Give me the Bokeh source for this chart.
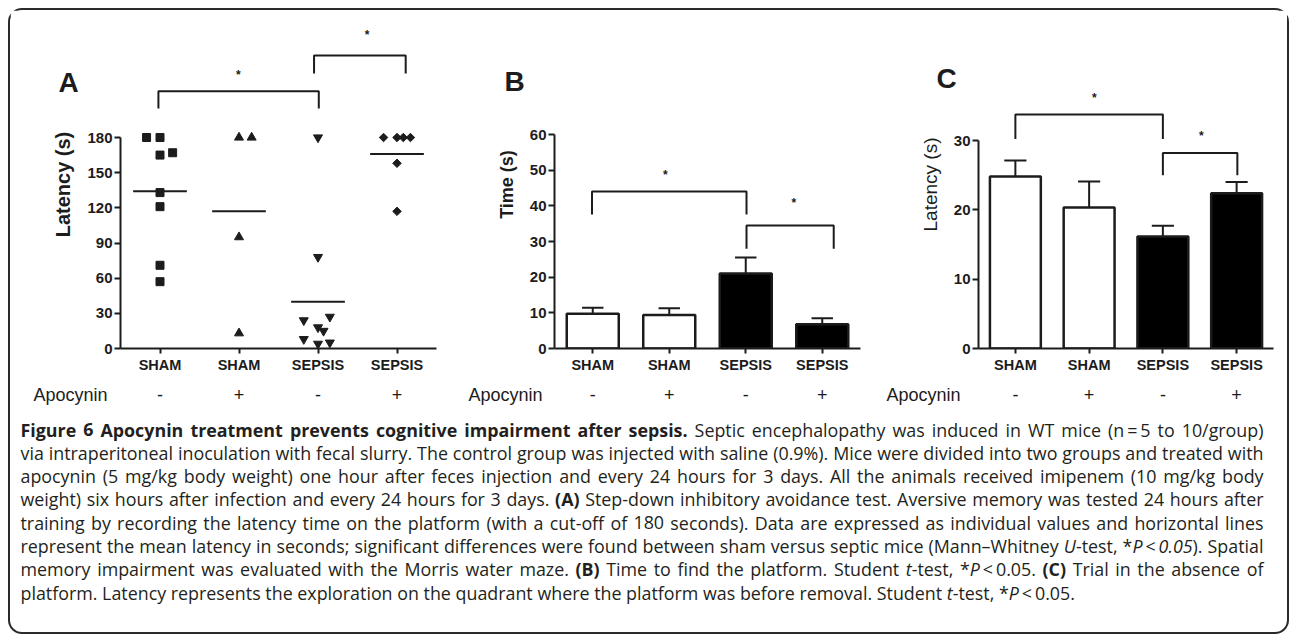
import subprocess
import numpy as np
from bokeh.plotting import figure
from bokeh.models import Range1d, LinearAxis, FixedTicker
from bokeh.layouts import row, column
from bokeh.embed import file_html
from bokeh.resources import INLINE
from bokeh.core.properties import value

# ---------------------------------------------------------------- data
groups = ["SHAM", "SHAM", "SEPSIS", "SEPSIS"]
apocynin = ["-", "+", "-", "+"]

# Panel A - step-down latency (s), individual animals
a_sham = [180, 180, 165, 167, 133, 121, 71, 57]
a_sham_apo = [180, 180, 95, 13]
a_sepsis = [180, 78, 27, 24, 18, 15, 8, 5, 4]
a_sepsis_apo = [180, 180, 180, 180, 158, 117]
a_ticks = [0, 30, 60, 90, 120, 150, 180]

# Panel B - time to find the platform (s), mean and SEM
b_time = [9.75, 9.4, 21.0, 6.8]
b_sem = [1.65, 1.9, 4.5, 1.7]
b_ticks = [0, 10, 20, 30, 40, 50, 60]

# Panel C - latency (s), mean and SEM
c_latency = [24.8, 20.35, 16.15, 22.4]
c_sem = [2.3, 3.75, 1.55, 1.6]
c_ticks = [0, 10, 20, 30]

caption_lines = [
    "**Figure 6 Apocynin treatment prevents cognitive impairment after sepsis.** Septic encephalopathy was induced in WT mice (n\u2009=\u20095 to 10/group)",
    "via intraperitoneal inoculation with fecal slurry. The control group was injected with saline (0.9%). Mice were divided into two groups and treated with",
    "apocynin (5 mg/kg body weight) one hour after feces injection and every 24 hours for 3 days. All the animals received imipenem (10 mg/kg body",
    "weight) six hours after infection and every 24 hours for 3 days. **(A)** Step-down inhibitory avoidance test. Aversive memory was tested 24 hours after",
    "training by recording the latency time on the platform (with a cut-off of 180 seconds). Data are expressed as individual values and horizontal lines",
    "represent the mean latency in seconds; significant differences were found between sham versus septic mice (Mann\u2013Whitney __U__-test, *__P__\u2009<\u2009__0.05__). Spatial",
    "memory impairment was evaluated with the Morris water maze. **(B)** Time to find the platform. Student __t__-test, *__P__\u2009<\u20090.05. **(C)** Trial in the absence of",
    "platform. Latency represents the exploration on the quadrant where the platform was before removal. Student __t__-test, *__P__\u2009<\u20090.05.",
]

# ---------------------------------------------------------------- style / geometry
INK = "#1c1c1c"
CH = "Liberation Sans"
CAP_FONT = "Open Sans"
PAGE_X0, PAGE_Y0 = 10, 10          # page position of the content (inside the rounded box)
INNER_W, INNER_H = 1277, 622
TOP_H = 400
FRAME_TOP = 20
FRAME_BOTTOM = 348
MB_TOP = FRAME_TOP - PAGE_Y0
MB_BOTTOM = TOP_H - MB_TOP - (FRAME_BOTTOM - FRAME_TOP)

# jitter of the dots in panel A (fraction of a category width)
a_sham_dx = [-0.17, 0.0, 0.0, 0.16, 0.0, 0.0, 0.0, 0.0]
a_sham_apo_dx = [0.0, 0.16, 0.0, 0.0]
a_sepsis_dx = [0.0, 0.0, 0.15, -0.18, 0.0, 0.07, -0.18, 0.15, 0.0]
a_sepsis_apo_dx = [-0.17, 0.0, 0.08, 0.17, 0.0, 0.0]


def make_panel(fig_left, fig_w, L, frame_w, ppy, ticks, ylabel, ylab_size, ylab_style, tick_size):
    y_top = (FRAME_BOTTOM - FRAME_TOP) / ppy
    p = figure(width=fig_w, height=TOP_H, x_range=Range1d(0.5, 4.5), y_range=Range1d(0, y_top),
               x_axis_type=None, y_axis_type=None, output_backend="svg", toolbar_location=None,
               min_border_left=L, min_border_right=fig_w - L - frame_w,
               min_border_top=MB_TOP, min_border_bottom=MB_BOTTOM)
    p.outline_line_color = None
    p.background_fill_color = "white"
    p.border_fill_color = "white"
    yax = LinearAxis(ticker=FixedTicker(ticks=ticks, minor_ticks=[]), bounds=(ticks[0], ticks[-1]),
                     axis_label=ylabel, axis_line_width=2, axis_line_color=INK,
                     major_tick_line_width=2, major_tick_line_color=INK, major_tick_in=0, major_tick_out=6,
                     minor_tick_line_color=None,
                     major_label_text_font=CH, major_label_text_font_style="bold",
                     major_label_text_font_size=tick_size, major_label_text_color=INK,
                     major_label_standoff=2,
                     axis_label_text_font=CH, axis_label_text_font_size=ylab_size,
                     axis_label_text_font_style=ylab_style, axis_label_text_color=INK,
                     axis_label_standoff=10)
    p.add_layout(yax, "left")
    xax = LinearAxis(ticker=FixedTicker(ticks=[1, 2, 3, 4], minor_ticks=[]),
                     major_label_overrides={i + 1: g for i, g in enumerate(groups)},
                     axis_line_width=2, axis_line_color=INK,
                     major_tick_line_width=2, major_tick_line_color=INK, major_tick_in=0, major_tick_out=5,
                     minor_tick_line_color=None,
                     major_label_text_font=CH, major_label_text_font_style="bold",
                     major_label_text_font_size="14.5px", major_label_text_color=INK,
                     major_label_standoff=3)
    p.add_layout(xax, "below")
    geom = dict(frame_left=fig_left + L, ppx=frame_w / 4.0)
    return p, geom


def add_brackets(p, brackets, stars):
    xs, ys = [], []
    for x1, x2, yt, yl, yr in brackets:
        xs.append([x1, x1, x2, x2])
        ys.append([yl, yt, yt, yr])
    p.multi_line(xs=xs, ys=ys, line_width=2, line_color=INK)
    p.text(x=[s[0] for s in stars], y=[s[1] for s in stars], text=["*"] * len(stars),
           text_font=value(CH), text_font_size="12px", text_font_style="bold", text_color=INK,
           text_align="center", text_baseline="middle", y_offset=3)


# ---------------------------------------------------------------- panel A
pA, gA = make_panel(10, 445, 110, 316, 211 / 180.0, a_ticks, "Latency (s)", "20px", "bold", "15px")
series = [(a_sham, a_sham_dx, "square", 8, 0.0),
          (a_sham_apo, a_sham_apo_dx, "triangle", 9, 0.0),
          (a_sepsis, a_sepsis_dx, "inverted_triangle", 9, 0.0),
          (a_sepsis_apo, a_sepsis_apo_dx, "square", 6, np.pi / 4)]
for k, (vals, dx, mk, sz, ang) in enumerate(series):
    xs = [k + 1 + d for d in dx]
    pA.scatter(xs, vals, marker=mk, size=sz, angle=ang, fill_color=INK, line_color=INK)
    m = float(np.mean(vals))
    pA.segment(x0=[k + 1 - 0.34], y0=[m], x1=[k + 1 + 0.34], y1=[m], line_width=2, line_color=INK)
add_brackets(pA, [(0.98, 3.01, 219.5, 204.7, 204.7), (2.95, 4.11, 250.0, 234.6, 234.6)],
             [(1.99, 235.5), (3.62, 269.6)])


# ---------------------------------------------------------------- bar panels
def bars(p, vals, sem, width, cap):
    x = [1, 2, 3, 4]
    tops = [v + s for v, s in zip(vals, sem)]
    p.segment(x0=x, y0=vals, x1=x, y1=tops, line_width=2, line_color=INK)
    p.segment(x0=[i - cap for i in x], y0=tops, x1=[i + cap for i in x], y1=tops,
              line_width=2, line_color=INK)
    p.vbar(x=x, top=vals, bottom=0, width=width, fill_color=["white", "white", "black", "black"],
           line_color=INK, line_width=2.5)


pB, gB = make_panel(455, 425, 99, 306, 214 / 60.0, b_ticks, "Time (s)", "18px", "bold", "15px")
bars(pB, b_time, b_sem, 0.68, 0.14)
add_brackets(pB, [(0.99, 3.01, 44.0, 37.6, 37.6), (3.01, 4.15, 34.5, 27.95, 27.95)],
             [(1.95, 49.6), (3.63, 41.5)])

C_W = PAGE_X0 + INNER_W - 880
pC, gC = make_panel(880, C_W, 98, 295, 208 / 30.0, c_ticks, "Latency (s)", "19px", "normal", "15px")
bars(pC, c_latency, c_sem, 0.69, 0.15)
add_brackets(pC, [(1.0, 3.0, 33.75, 30.2, 30.2), (3.0, 4.01, 28.2, 25.0, 25.0)],
             [(2.07, 36.5), (3.52, 31.05)])

# ---------------------------------------------------------------- caption text measurement
_OS = {" ": 532, "!": 565, '"': 821, "%": 1696, "'": 453, "(": 607, ")": 607, "*": 1120, "+": 1171,
       ",": 502, "-": 659, ".": 545, "/": 752, ":": 545, ";": 545, "<": 1171, "=": 1171, ">": 1171,
       "?": 879, "\u2013": 1024, "\u2009": 420, "\u00a0": 532,
       "A": 1300, "B": 1343, "C": 1286, "D": 1470, "E": 1145, "F": 1069, "G": 1477, "H": 1487,
       "I": 586, "J": 547, "K": 1237, "L": 1094, "M": 1825, "N": 1548, "O": 1577, "P": 1255,
       "Q": 1577, "R": 1266, "S": 1104, "T": 1130, "U": 1473, "V": 1214, "W": 1871, "X": 1171,
       "Y": 1118, "Z": 1149, "a": 1149, "b": 1260, "c": 987, "d": 1260, "e": 1155, "f": 715,
       "g": 1126, "h": 1266, "i": 528, "j": 528, "k": 1090, "l": 528, "m": 1915, "n": 1266,
       "o": 1237, "p": 1260, "q": 1260, "r": 846, "s": 985, "t": 721, "u": 1266, "v": 1030,
       "w": 1577, "x": 1073, "y": 1032, "z": 958}


def _table_measure(text, st):
    w = sum(_OS.get(c, 1171 if c.isdigit() else 1100) for c in text) / 2048.0
    return w * (1.07 if st == "bold" else 1.0)


def make_measure():
    try:
        from PIL import ImageFont
    except Exception:
        return _table_measure
    try:
        def fc(spec):
            r = subprocess.run(["fc-match", "-f", "%{file}", spec], capture_output=True, text=True,
                               timeout=10)
            return r.stdout.strip()

        reg = fc(CAP_FONT + ":style=Regular")
        fonts = {}
        for st, spec in [("normal", ":style=Regular"), ("bold", ":style=Bold"),
                         ("italic", ":style=Italic")]:
            pth = fc(CAP_FONT + spec) or reg
            f = ImageFont.truetype(pth, 100)
            scale = 1.0
            if st == "bold":
                ok = "bold" in pth.lower()
                try:
                    for n in f.get_variation_names():
                        if (n.decode() if isinstance(n, bytes) else n).lower() == "bold":
                            f.set_variation_by_name(n)
                            ok = True
                except Exception:
                    pass
                if not ok:
                    scale = 1.07
            fonts[st] = (f, scale)

        def measure(text, st):
            f, sc = fonts[st]
            return f.getlength(text) / 100.0 * sc

        measure("abc", "normal")
        return measure
    except Exception:
        return _table_measure


measure = make_measure()


def parse(line):
    chars = []
    bold = ital = False
    i = 0
    while i < len(line):
        if line.startswith("**", i):
            bold = not bold
            i += 2
            continue
        if line.startswith("__", i):
            ital = not ital
            i += 2
            continue
        chars.append((line[i], "bold" if bold else ("italic" if ital else "normal")))
        i += 1
    words, cur = [], []
    for ch, st in chars:
        if ch == " ":
            if cur:
                words.append(cur)
                cur = []
        else:
            if cur and cur[-1][1] == st:
                cur[-1] = (cur[-1][0] + ch, st)
            else:
                cur.append((ch, st))
    if cur:
        words.append(cur)
    return words


CAP_LEFT, CAP_RIGHT = 20, 1263
LINE0, LINE_DY = 429, 23.3

parsed = [parse(l) for l in caption_lines]
space_em = measure(" ", "normal")
nat = []
for words in parsed:
    ww = sum(measure(t, s) for w in words for t, s in w)
    nat.append(ww + space_em * (len(words) - 1))
fs = min(18.0, min((CAP_RIGHT - CAP_LEFT) / n for n in nat[:-1]) * 0.995)

runs = {"normal": dict(x=[], y=[], text=[]), "bold": dict(x=[], y=[], text=[]),
        "italic": dict(x=[], y=[], text=[])}
for li, words in enumerate(parsed):
    y = LINE0 + li * LINE_DY
    widths = [sum(measure(t, s) for t, s in w) * fs for w in words]
    if li < len(parsed) - 1 and len(words) > 1:
        gap = (CAP_RIGHT - CAP_LEFT - sum(widths)) / (len(words) - 1)
    else:
        gap = space_em * fs
    x = CAP_LEFT
    for w, wd in zip(words, widths):
        xx = x
        for t, s in w:
            runs[s]["x"].append(xx)
            runs[s]["y"].append(y)
            runs[s]["text"].append(t)
            xx += measure(t, s) * fs
        x += wd + gap

# ---------------------------------------------------------------- overlay: caption, letters, Apocynin rows
ov = figure(width=INNER_W, height=INNER_H,
            x_range=Range1d(PAGE_X0, PAGE_X0 + INNER_W), y_range=Range1d(PAGE_Y0 + INNER_H, PAGE_Y0),
            x_axis_type=None, y_axis_type=None, min_border=0, output_backend="svg",
            toolbar_location=None, styles={"margin-top": f"-{TOP_H}px"})
ov.outline_line_color = None
ov.background_fill_alpha = 0
ov.border_fill_alpha = 0
for name, g in (("A", gA), ("B", gB), ("C", gC)):
    ov.extra_x_ranges[name] = Range1d(0.5 + (PAGE_X0 - g["frame_left"]) / g["ppx"],
                                      0.5 + (PAGE_X0 + INNER_W - g["frame_left"]) / g["ppx"])

for st, d in runs.items():
    if d["text"]:
        ov.text(x=d["x"], y=d["y"], text=d["text"], text_font=value(CAP_FONT),
                text_font_size=f"{fs:.2f}px", text_font_style=st, text_color="#231f20",
                text_align="left", text_baseline="middle")

# panel letters
ov.text(x=[58, 504, 936], y=[82, 81, 78], text=["A", "B", "C"], text_font=value(CH),
        text_font_size="28px", text_font_style="bold", text_color=INK,
        text_align="left", text_baseline="middle")
# Apocynin rows
APO_Y = 394
ov.text(x=[107, 542, 960], y=[APO_Y] * 3, text=["Apocynin"] * 3, text_font=value(CH),
        text_font_size="18px", text_color=INK, text_align="right", text_baseline="middle")
for name in ("A", "B", "C"):
    ov.text(x=[1, 2, 3, 4], y=[APO_Y] * 4, text=apocynin, x_range_name=name,
            text_font=value(CH), text_font_size="18px", text_color=INK,
            text_align="center", text_baseline="middle")

layout = column(row(pA, pB, pC), ov,
                styles={"border": "2px solid #2a2a2a", "border-radius": "14px",
                        "margin": "8px 0 0 8px"})

open("out.html", "w").write(file_html(layout, INLINE))
